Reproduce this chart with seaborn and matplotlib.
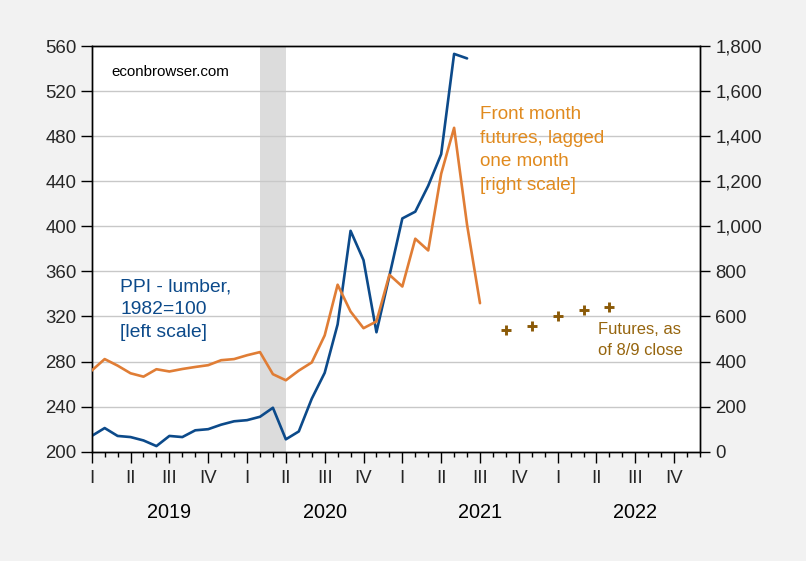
import matplotlib
matplotlib.use("Agg")
import matplotlib.pyplot as plt
import matplotlib.transforms as mtransforms
import seaborn as sns
import pandas as pd
import numpy as np

# ---- data (monthly, month index 0 = Jan 2019) ----
ppi_lumber = [214, 221, 214, 213, 210, 205, 214, 213, 219, 220, 224, 227,
              228, 231, 239, 211, 218, 247, 270, 313, 396, 370, 306, 356,
              407, 413, 436, 464, 553, 549]
front_futures = [360, 411, 382, 348, 333, 366, 356, 367, 376, 384, 406, 411,
                 428, 442, 344, 317, 360, 396, 516, 741, 622, 548, 578, 785,
                 733, 945, 893, 1233, 1437, 1007, 659]
futures_months = [32, 34, 36, 38, 40]
futures_close = [541, 556, 603, 630, 642]
quarter_labels = ["I", "II", "III", "IV"]
years = ["2019", "2020", "2021", "2022"]
recession = (13, 15)

df_ppi = pd.DataFrame({"month": np.arange(len(ppi_lumber)), "value": ppi_lumber})
df_fut = pd.DataFrame({"month": np.arange(len(front_futures)), "value": front_futures})
df_close = pd.DataFrame({"month": futures_months, "value": futures_close})

sns.set_theme(style="white")
plt.rcParams["font.family"] = ["Liberation Sans", "DejaVu Sans"]

fig = plt.figure(figsize=(8.06, 5.61), dpi=100, facecolor="#F2F2F2")
ax = fig.add_axes([0.1138, 0.1948, 0.8685 - 0.1138, 0.918 - 0.1948])
ax.set_facecolor("white")
ax2 = ax.twinx()

blue = "#0C4A8A"
orange = "#E07D35"
brown = "#8B5A08"

ax.axvspan(recession[0], recession[1], color="#DCDCDC", lw=0, zorder=0)

sns.lineplot(data=df_ppi, x="month", y="value", ax=ax, color=blue, lw=1.9, zorder=3)
sns.lineplot(data=df_fut, x="month", y="value", ax=ax2, color=orange, lw=1.9, zorder=3)
sns.scatterplot(data=df_close, x="month", y="value", ax=ax2, marker="+", s=55,
                color=brown, linewidth=2.1, zorder=4)

ax.set_xlim(0, 47)
ax.set_ylim(200, 560)
ax2.set_ylim(0, 1800)
ax.set_yticks(np.arange(200, 561, 40))
ax2.set_yticks(np.arange(0, 1801, 200))
ax2.set_yticklabels([f"{v:,}" for v in range(0, 1801, 200)])
for y in range(240, 560, 40):
    ax.axhline(y, color="#C8C8C8", lw=1.0, zorder=1)

ax.set_xlabel("")
ax.set_ylabel("")
ax2.set_xlabel("")
ax2.set_ylabel("")

qticks = np.arange(0, 48, 3)
ax.set_xticks(qticks)
ax.set_xticklabels(quarter_labels * 4)
ax.set_xticks(np.arange(0, 48, 1), minor=True)
ax.tick_params(axis="x", which="major", direction="out", length=8, width=1,
               color="black", labelsize=13.4, pad=5, bottom=True)
ax.tick_params(axis="x", which="minor", direction="out", length=3.5, width=1,
               color="black", bottom=True)
ax.tick_params(axis="y", which="major", direction="out", length=8, width=1,
               color="black", labelsize=13.4, pad=3, left=True)
ax2.tick_params(axis="y", which="major", direction="out", length=7, width=1,
                color="black", labelsize=13.4, pad=4, right=True)
ax2.tick_params(axis="x", bottom=False, top=False, labelbottom=False)

for a in (ax, ax2):
    for s in a.spines.values():
        s.set_color("black")
        s.set_linewidth(1.0)
        s.set_visible(True)

trans = mtransforms.blended_transform_factory(ax.transData, fig.transFigure)
for i, yr in enumerate(years):
    ax.text(i * 12 + 6, 1 - 512 / 561, yr, transform=trans, ha="center", va="center",
            fontsize=14.3, color="black", clip_on=False)

ax.text(111 / 806, 1 - 71.5 / 561, "econbrowser.com", transform=fig.transFigure,
        ha="left", va="center", fontsize=10.9, color="black")
ax.text(120.5 / 806, 1 - 310 / 561, "PPI - lumber,\n1982=100\n[left scale]",
        transform=fig.transFigure, ha="left", va="center", fontsize=13.9,
        color=blue, linespacing=1.45)
ax.text(479.5 / 806, 1 - 150 / 561, "Front month\nfutures, lagged\none month\n[right scale]",
        transform=fig.transFigure, ha="left", va="center", fontsize=13.6,
        color="#E08A1E", linespacing=1.5)
ax.text(597.5 / 806, 1 - 340 / 561, "Futures, as\nof 8/9 close",
        transform=fig.transFigure, ha="left", va="center", fontsize=11.9,
        color="#96650E", linespacing=1.5)

fig.savefig("out.png", dpi=100, facecolor=fig.get_facecolor())
